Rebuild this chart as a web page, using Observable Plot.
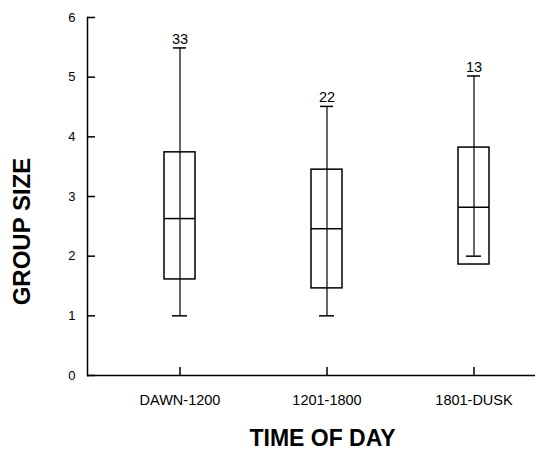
<!DOCTYPE html>
<html>
<head>
<meta charset="utf-8">
<script src="https://cdn.jsdelivr.net/npm/d3@7"></script>
<script src="https://cdn.jsdelivr.net/npm/@observablehq/plot@0.6"></script>
<style>
  html, body { margin: 0; padding: 0; background: #fff; }
  svg { display: block; }
</style>
</head>
<body>
<div id="chart"></div>
<script>
const categories = ["DAWN-1200", "1201-1800", "1801-DUSK"];
const whiskerLow = [1.0, 1.0, 2.0];
const q1 = [1.61, 1.46, 1.86];
const median = [2.63, 2.46, 2.82];
const q3 = [3.74, 3.45, 3.82];
const whiskerHigh = [5.49, 4.51, 5.02];
const counts = [33, 22, 13];
const yTicks = [0, 1, 2, 3, 4, 5, 6];
const xTitle = "TIME OF DAY";
const yTitle = "GROUP SIZE";

const rows = categories.map((c, i) => ({
  cat: c, lo: whiskerLow[i], q1: q1[i], med: median[i], q3: q3[i], hi: whiskerHigh[i], n: counts[i]
}));

const font = "'Liberation Sans', Arial, Helvetica, sans-serif";

const chart = Plot.plot({
  width: 540,
  height: 450,
  marginLeft: 87,
  marginRight: 5,
  marginTop: 17,
  marginBottom: 75,
  style: { fontFamily: font, background: "#fff", color: "#000" },
  x: { type: "band", domain: categories, range: [163, 490], paddingInner: 0.79, paddingOuter: 0 },
  y: { domain: [0, 6] },
  marks: [
    // axis lines
    Plot.frame({ anchor: "left", stroke: "#000", strokeWidth: 1.5 }),
    Plot.ruleY([0], { stroke: "#000", strokeWidth: 1.5 }),
    // y ticks pointing inward
    Plot.axisY(yTicks, { tickSize: 8, dx: 8, tickFormat: () => "", strokeWidth: 1.5, label: null }),
    Plot.axisY(yTicks, { tickSize: 0, tickPadding: 12, fontSize: 13, tickFormat: d3.format("d"), label: null }),
    // x ticks pointing upward
    Plot.axisX({ tickSize: 8, dy: -8, tickFormat: () => "", strokeWidth: 1.5, label: null }),
    Plot.axisX({ tickSize: 0, tickPadding: 19, fontSize: 14.5, label: null }),
    // whiskers
    Plot.ruleX(rows, { x: "cat", y1: "lo", y2: "hi", stroke: "#000", strokeWidth: 1.2 }),
    Plot.tickY(rows, { x: "cat", y: "hi", stroke: "#000", strokeWidth: 1.5, insetLeft: 9, insetRight: 9 }),
    Plot.tickY(rows, { x: "cat", y: "lo", stroke: "#000", strokeWidth: 1.5, insetLeft: 8, insetRight: 8 }),
    // boxes
    Plot.barY(rows, { x: "cat", y1: "q1", y2: "q3", fill: "none", stroke: "#000", strokeWidth: 1.5 }),
    Plot.tickY(rows, { x: "cat", y: "med", stroke: "#000", strokeWidth: 1.5 }),
    // counts
    Plot.text(rows, { x: "cat", y: "hi", text: d => String(d.n), lineAnchor: "bottom", dy: -4, fontSize: 14.5, fill: "#000" }),
    // titles
    Plot.text([xTitle], { frameAnchor: "bottom", text: d => d, textAnchor: "middle", lineAnchor: "bottom", dy: 70, dx: 11, fontSize: 23, fontWeight: "bold", fill: "#000" }),
    Plot.text([yTitle], { frameAnchor: "left", text: d => d, textAnchor: "middle", rotate: -90, lineAnchor: "middle", dx: -65, dy: 35, fontSize: 24, fontWeight: "bold", fill: "#000" })
  ]
});

document.getElementById("chart").appendChild(chart);
</script>
</body>
</html>
